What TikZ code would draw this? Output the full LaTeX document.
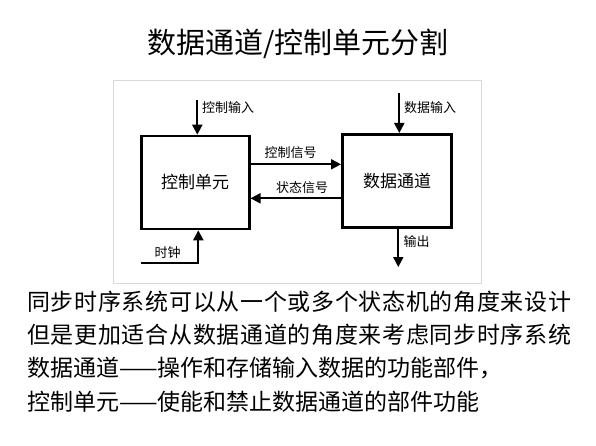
\documentclass[tikz,border=0pt]{standalone}
\usepackage{fontspec}
\setmainfont{Noto Sans CJK SC}
\usetikzlibrary{arrows.meta}

\begin{document}
\begin{tikzpicture}[x=1pt,y=-1pt,
  unitbox/.style={draw,line width=2.6pt,minimum width=108pt,minimum height=93pt,
    inner sep=0pt,font=\fontsize{17}{20}\selectfont},
  sig/.style={line width=2pt,-{Triangle[length=10pt,width=10pt]}},
  lbl/.style={inner sep=0pt,font=\fontsize{13}{15}\selectfont},
  body/.style={anchor=west,inner sep=0pt,font=\fontsize{23}{26}\selectfont}]
\useasboundingbox (0,0) rectangle (596,446);
% title and frame
\node (title) at (298,44) {\fontsize{29}{34}\selectfont 数据通道/控制单元分割};
\draw[black!15,line width=0.9pt] (113,80) rectangle (481,283);
% the two units
\node[unitbox] (cu) at (195.2,182.5) {控制单元};
\node[unitbox,minimum width=109.4pt] (dp) at (397,180.8) {数据通道};
% free ends
\coordinate (ctlin) at (197.3,100);
\coordinate (datin) at (399.3,93.3);
\coordinate (clk) at (140.7,262.7);
\coordinate (dout) at (398.3,267);
% connectors
\draw[sig] (ctlin) -- (ctlin |- cu.north);
\draw[sig] (datin) -- (datin |- dp.north);
\draw[sig] (cu.east |- 0,164.3) -- (dp.west |- 0,164.3);
\draw[sig] (dp.west |- 0,198.3) -- (cu.east |- 0,198.3);
\draw[sig] (clk) -- (198.3,262.7) -- (198.3,0 |- cu.south);
\draw[sig] (dout |- dp.south) -- (dout);
% labels
\node[lbl] (ctlinlbl) at (228,107.7) {控制输入};
\node[lbl] (datinlbl) at (430,108) {数据输入};
\node[lbl] (cslbl) at (290.7,153) {控制信号};
\node[lbl] (sslbl) at (302,188) {状态信号};
\node[lbl] (clklbl) at (167.7,252.7) {时钟};
\node[lbl] (doutlbl) at (416.7,242) {输出};
% text below
\node[body] (l1) at (27,302) {\addfontfeatures{LetterSpace=3}同步时序系统可以从一个或多个状态机的角度来设计};
\node[body] (l2) at (27,335) {\addfontfeatures{LetterSpace=3}但是更加适合从数据通道的角度来考虑同步时序系统};
\node[body] (l3) at (27,368) {数据通道——操作和存储输入数据的功能部件，};
\node[body] (l4) at (27,402) {控制单元——使能和禁止数据通道的部件功能};
\end{tikzpicture}
\end{document}
